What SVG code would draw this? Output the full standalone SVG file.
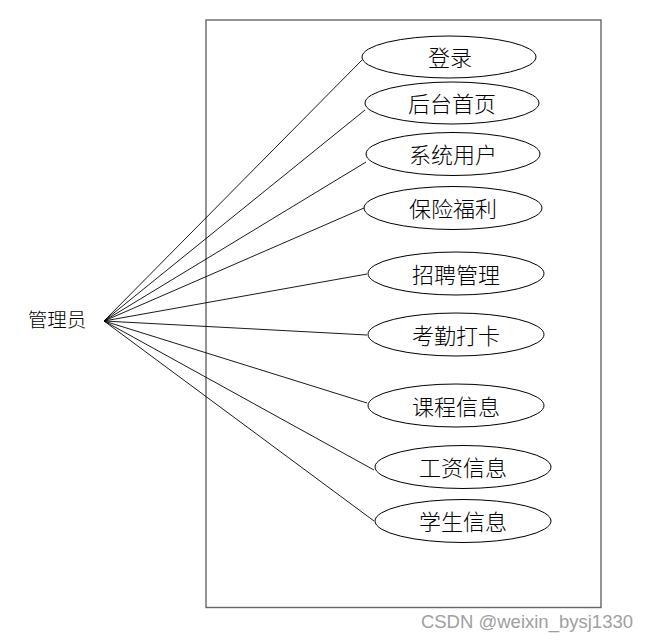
<svg xmlns="http://www.w3.org/2000/svg" width="649" height="641" viewBox="0 0 649 641">
<style>
.uc ellipse{fill:#fff;stroke:#000;stroke-width:1}
.uc text{font-family:"Noto Sans CJK SC",sans-serif;font-size:22px;font-weight:300;fill:#000;text-anchor:middle;dominant-baseline:central}
#connectors line{stroke:#000;stroke-width:0.9}
</style>
<rect width="649" height="641" fill="#fff"/>
<rect id="boundary" x="206" y="20" width="395" height="587.5" fill="none" stroke="#666" stroke-width="1.4"/>
<g id="connectors">
<line x1="104" y1="321" x2="362" y2="60"/>
<line x1="104" y1="321" x2="365" y2="110"/>
<line x1="104" y1="321" x2="366" y2="162"/>
<line x1="104" y1="321" x2="364" y2="208"/>
<line x1="104" y1="321" x2="367" y2="274"/>
<line x1="104" y1="321" x2="367" y2="335"/>
<line x1="104" y1="321" x2="367" y2="403"/>
<line x1="104" y1="321" x2="374" y2="470"/>
<line x1="104" y1="321" x2="374" y2="521"/>
</g>
<g id="actor"><text x="57" y="318" font-family="Noto Sans CJK SC,sans-serif" font-size="19.5" font-weight="300" text-anchor="middle" dominant-baseline="central">管理员</text></g>
<g id="uc1" class="uc"><ellipse cx="449" cy="57" rx="87" ry="21"/><text x="450" y="56">登录</text></g>
<g id="uc2" class="uc"><ellipse cx="452" cy="103" rx="87" ry="21"/><text x="452" y="102">后台首页</text></g>
<g id="uc3" class="uc"><ellipse cx="453" cy="154" rx="87" ry="21.5"/><text x="453" y="153">系统用户</text></g>
<g id="uc4" class="uc"><ellipse cx="453" cy="208" rx="89" ry="21.5"/><text x="453" y="207">保险福利</text></g>
<g id="uc5" class="uc"><ellipse cx="456" cy="273.5" rx="88" ry="21.5"/><text x="456" y="272.5">招聘管理</text></g>
<g id="uc6" class="uc"><ellipse cx="456" cy="334.5" rx="88" ry="21.5"/><text x="456" y="333.5">考勤打卡</text></g>
<g id="uc7" class="uc"><ellipse cx="456" cy="405.5" rx="88" ry="21.5"/><text x="456" y="404.5">课程信息</text></g>
<g id="uc8" class="uc"><ellipse cx="463" cy="467" rx="88" ry="21.5"/><text x="463" y="466">工资信息</text></g>
<g id="uc9" class="uc"><ellipse cx="463" cy="521" rx="88" ry="21.5"/><text x="463" y="520">学生信息</text></g>
<text x="633" y="628" font-family="Liberation Sans,Arial,sans-serif" font-size="18.5" fill="#a0a0a0" text-anchor="end">CSDN @weixin_bysj1330</text>
</svg>
